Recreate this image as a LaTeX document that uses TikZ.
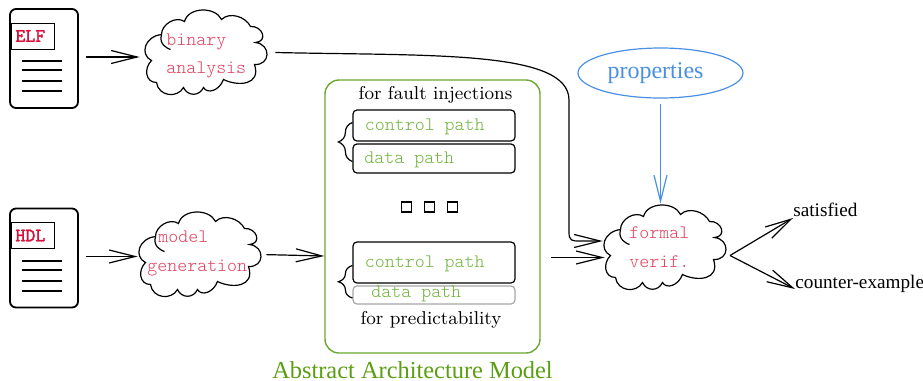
\documentclass[tikz,border=0pt]{standalone}
\usepackage{fontspec}
\usetikzlibrary{arrows.meta,decorations.pathreplacing,shapes.geometric}
\newfontfamily\timesfont{Liberation Serif}
\newfontfamily\thinmono{Latin Modern Mono Light}
\newfontfamily\tagfont[FakeBold=1.6]{Latin Modern Mono}
\definecolor{pinktext}{HTML}{E2405E}
\definecolor{tagred}{HTML}{D5103A}
\definecolor{pathgreen}{HTML}{70B23C}
\definecolor{framegreen}{HTML}{6BA82E}
\definecolor{titlegreen}{HTML}{5B9E12}
\definecolor{propblue}{HTML}{4A90E2}
\tikzset{
  barb/.style={-{Straight Barb[length=13pt,width=6.5pt]},line width=.6pt},
  docbox/.style={draw,line width=.9pt,rounded corners=3pt,minimum width=34pt,minimum height=49.5pt,inner sep=0pt},
  tagbox/.style={draw,line width=.45pt,anchor=west,text width=17.5pt,inner xsep=2pt,inner ysep=0pt,minimum height=13pt,align=left,text=tagred,font=\fontsize{9.5}{10}\tagfont},
  cloudbox/.style={minimum width=61.5pt,minimum height=41.5pt,inner sep=0pt},
  cloudtext/.style={anchor=base west,inner sep=0pt,text=pinktext,font=\fontsize{9.5}{10}\thinmono},
  pathbox/.style={draw,line width=.6pt,rounded corners=2pt,minimum width=81pt,inner sep=0pt},
  pathtext/.style={anchor=base west,inner sep=0pt,text=pathgreen,font=\fontsize{9.5}{10}\thinmono},
  dotbox/.style={draw,line width=.6pt,minimum size=5pt,inner sep=0pt},
  captext/.style={inner sep=0pt,font=\fontsize{9.3}{10}\selectfont},
  outtext/.style={anchor=base west,inner sep=0pt,font=\fontsize{9.6}{11}\timesfont},
  bracey/.style={decorate,decoration={brace,amplitude=7pt},line width=.6pt},
  cloudy/.pic={
    \draw[line width=.6pt,fill=white] (-44,-18) .. controls (-44,-28) and (-30,-37) .. (-21,-31)
      .. controls (-17,-46) and (10,-46) .. (16,-33)
      .. controls (24,-41) and (40,-36) .. (45,-26)
      .. controls (57,-27) and (63,-11) .. (50,-10)
      .. controls (66,-8) and (65,13) .. (49,12)
      .. controls (56,33) and (32,34) .. (18,27)
      .. controls (14,38) and (2,42) .. (-2,35)
      .. controls (-6,44) and (-18,44) .. (-22,35)
      .. controls (-28,46) and (-47,44) .. (-49,30)
      .. controls (-60,30) and (-62,16) .. (-54,8)
      .. controls (-66,2) and (-61,-16) .. (-44,-18);
    \draw[line width=.6pt] (-44,-18) .. controls (-47,-8) and (-38,-4) .. (-35,-3);
  }
}
\begin{document}
\begin{tikzpicture}[x=.5pt,y=-.5pt]
\useasboundingbox (0,0) rectangle (923,381);
\node[docbox] at (44,58.5) (elf) {};
\node[docbox] at (44,258) (hdl) {};
\node[tagbox] at (11,36) (elftag) {ELF};
\node[tagbox] at (11,235.5) (hdltag) {HDL};
\foreach \y in {61,70,81,91,261,270,281,291}
  \draw[line width=.8pt] (22,\y) -- (62,\y);
\pic at (205.5,52.5) {cloudy};
\pic at (199.5,254.5) {cloudy};
\pic at (664.5,247.5) {cloudy};
\node[cloudbox] at (205.5,52.5) (binary) {};
\node[cloudbox] at (199.5,254.5) (modelgen) {};
\node[cloudbox] at (664.5,247.5) (verif) {};
\node[cloudtext] at (166,45.5) (binarytxt) {binary};
\node[cloudtext] at (166,73) (analysistxt) {analysis};
\node[cloudtext] at (158,242) (modeltxt) {model};
\node[cloudtext] at (147,271) (generationtxt) {generation};
\node[cloudtext] at (629,238) (formaltxt) {formal};
\node[cloudtext] at (629,267) (veriftxt) {verif.};
\node[draw=framegreen,line width=.7pt,rounded corners=7pt,minimum width=107.5pt,minimum height=136.5pt,inner sep=0pt] at (432.5,216.5) (abstract) {};
\node[captext] at (435.5,94.5) (faulttxt) {for fault injections};
\node[captext] at (431,320) (predicttxt) {for predictability};
\node[pathbox,minimum height=15.5pt] at (434,125.5) (ctrlone) {};
\node[pathbox,minimum height=14.5pt] at (434,158.5) (dataone) {};
\node[pathbox,minimum height=20.5pt] at (434,262.5) (ctrltwo) {};
\node[pathbox,draw=black!35,minimum height=9pt] at (434,295) (datatwo) {};
\node[pathtext] at (364.5,130) (ctrlonetxt) {control path};
\node[pathtext] at (364,163) (dataonetxt) {data path};
\node[pathtext] at (364.5,267) (ctrltwotxt) {control path};
\node[pathtext] at (371,297) (datatwotxt) {data path};
\node[dotbox] at (406.5,207) (dota) {};
\node[dotbox] at (429.5,207) (dotb) {};
\node[dotbox] at (452.5,207) (dotc) {};
\node[anchor=base,inner sep=0pt,text=titlegreen,font=\fontsize{12.2}{14}\timesfont] at (412.5,378) (title) {Abstract Architecture Model};
\node[draw=propblue,line width=.6pt,ellipse,minimum width=82.5pt,minimum height=25pt,inner sep=0pt,text=propblue,font=\fontsize{12}{14}\timesfont] at (660.5,73) (props) {\raisebox{-1pt}{properties}\kern5pt};
\node[outtext] at (793,216) (sat) {satisfied};
\node[outtext] at (795,288) (counter) {counter-example};
\coordinate (split) at (730,255.5);
\coordinate (bendtop) at (569,100);
\coordinate (bendlow) at (569,232);
\coordinate (bendend) at (580,241);
\draw[bracey] ([yshift=-1.5pt]dataone.west) -- ([yshift=1.5pt]ctrlone.west);
\draw[bracey] ([yshift=-1.5pt]datatwo.west) -- ([yshift=-1.5pt]ctrltwo.west);
\draw[barb,shorten <=3.5pt,shorten >=2pt] ([yshift=.75pt]elf.east) -- ([yshift=.75pt]elf.east -| binary.west);
\draw[barb,shorten <=3.5pt] ([yshift=.75pt]hdl.east) -- ([yshift=.75pt]hdl.east -| modelgen.west);
\draw[barb,shorten <=2.5pt] (modelgen.east) -- ([yshift=-.75pt]modelgen.east -| abstract.west);
\draw[barb,shorten <=5pt,shorten >=-1pt] ([yshift=-20.5pt]abstract.east) -- ([yshift=-20.5pt]abstract.east -| verif.west);
\draw[barb] ([xshift=4pt]binary.east) .. controls (430,56) and (569,50) .. (bendtop) -- (bendlow) .. controls (569,241) and (572,241) .. (bendend) -- ([yshift=3.25pt]verif.west);
\draw[barb,draw=propblue,shorten <=2.5pt,shorten >=1pt] (props.south) -- (props.south |- verif.north);
\draw[barb] (split) -- ([yshift=-1pt]sat.base west);
\draw[barb] (split) -- ([yshift=-.5pt]counter.base west);
\end{tikzpicture}
\end{document}
